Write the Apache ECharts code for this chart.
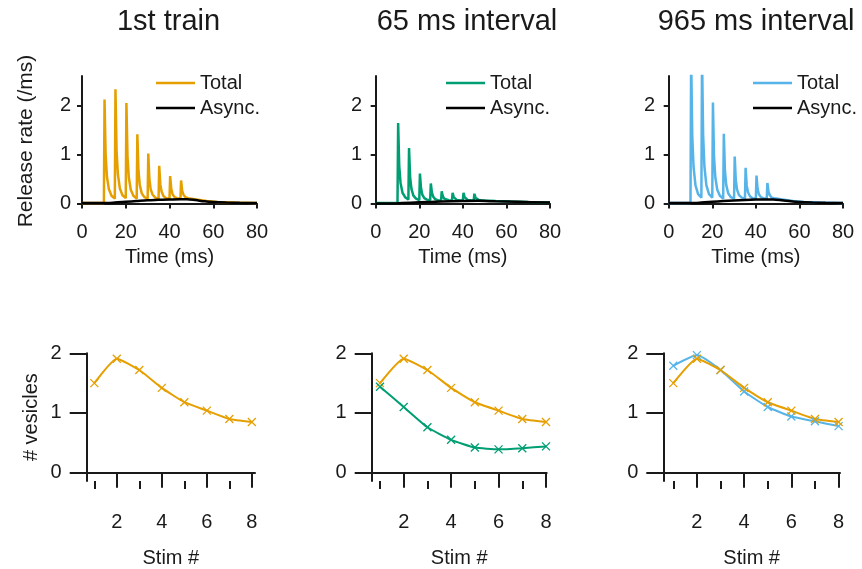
<!DOCTYPE html>
<html>
<head>
<meta charset="utf-8">
<script src="https://cdn.jsdelivr.net/npm/echarts@6/dist/echarts.min.js"></script>
<style>
  html, body { margin: 0; padding: 0; background: #fff; }
  #chart { width: 862px; height: 569px; }
</style>
</head>
<body>
<div id="chart"></div>
<script>
// ---- data ----
var titles = ['1st train', '65 ms interval', '965 ms interval'];
var timeTicks = [0, 20, 40, 60, 80];
var rateTicks = [0, 1, 2];

// release rate traces [time ms, rate /ms]
var totalFirst = [
  [0,0.01],[10,0.01],
  [10.3,2.12],[10.8,1.0],[11.4,0.55],[12.3,0.29],[13.5,0.16],[15,0.1],
  [15.3,2.33],[15.8,1.08],[16.4,0.6],[17.3,0.31],[18.5,0.17],[20,0.11],
  [20.3,2.05],[20.8,0.96],[21.4,0.53],[22.3,0.28],[23.5,0.16],[25,0.1],
  [25.3,1.41],[25.8,0.68],[26.4,0.38],[27.3,0.21],[28.5,0.13],[30,0.1],
  [30.3,1.02],[30.8,0.5],[31.4,0.29],[32.3,0.18],[33.5,0.12],[35,0.1],
  [35.3,0.77],[35.8,0.39],[36.4,0.24],[37.3,0.15],[38.5,0.11],[40,0.1],
  [40.3,0.56],[40.8,0.3],[41.4,0.19],[42.3,0.13],[43.5,0.11],[45,0.1],
  [45.3,0.47],[45.8,0.26],[46.4,0.18],[47.3,0.13],[48.5,0.11],[50,0.1],
  [53,0.08],[57,0.05],[62,0.03],[70,0.02],[80,0.01]
];
var asyncFirst = [
  [0,0.01],[10,0.01],[15,0.02],[20,0.035],[25,0.05],[30,0.065],[35,0.075],
  [40,0.085],[45,0.09],[48,0.09],[52,0.07],[56,0.045],[60,0.03],[66,0.02],
  [72,0.015],[80,0.01]
];
var total65 = [
  [0,0.01],[10,0.01],
  [10.3,1.64],[10.8,0.77],[11.4,0.42],[12.3,0.22],[13.5,0.13],[15,0.08],
  [15.3,1.13],[15.8,0.54],[16.4,0.3],[17.3,0.16],[18.5,0.1],[20,0.07],
  [20.3,0.61],[20.8,0.31],[21.4,0.18],[22.3,0.11],[23.5,0.08],[25,0.07],
  [25.3,0.41],[25.8,0.22],[26.4,0.14],[27.3,0.09],[28.5,0.07],[30,0.06],
  [30.3,0.25],[30.8,0.15],[31.4,0.1],[32.3,0.08],[33.5,0.07],[35,0.06],
  [35.3,0.22],[35.8,0.13],[36.4,0.09],[37.3,0.07],[38.5,0.065],[40,0.06],
  [40.3,0.22],[40.8,0.13],[41.4,0.09],[42.3,0.07],[43.5,0.065],[45,0.06],
  [45.3,0.2],[45.8,0.12],[46.4,0.09],[47.3,0.07],[48.5,0.065],[50,0.06],
  [55,0.05],[62,0.04],[70,0.03],[80,0.02]
];
var async65 = [
  [0,0],[8,0],[12,0.01],[20,0.025],[30,0.04],[40,0.05],[47,0.055],
  [55,0.045],[65,0.035],[80,0.02]
];
var total965 = [
  [0,0.01],[10,0.01],
  [10.3,3.0],[10.8,1.4],[11.4,0.75],[12.3,0.37],[13.5,0.19],[15,0.12],
  [15.3,3.0],[15.8,1.4],[16.4,0.75],[17.3,0.37],[18.5,0.19],[20,0.12],
  [20.3,2.06],[20.8,0.96],[21.4,0.53],[22.3,0.28],[23.5,0.16],[25,0.1],
  [25.3,1.42],[25.8,0.68],[26.4,0.38],[27.3,0.21],[28.5,0.13],[30,0.1],
  [30.3,0.96],[30.8,0.47],[31.4,0.28],[32.3,0.17],[33.5,0.12],[35,0.1],
  [35.3,0.73],[35.8,0.37],[36.4,0.23],[37.3,0.15],[38.5,0.11],[40,0.1],
  [40.3,0.57],[40.8,0.3],[41.4,0.19],[42.3,0.13],[43.5,0.11],[45,0.1],
  [45.3,0.42],[45.8,0.24],[46.4,0.17],[47.3,0.12],[48.5,0.11],[50,0.1],
  [53,0.08],[57,0.05],[62,0.03],[70,0.02],[80,0.01]
];
var async965 = [
  [0,0.01],[10,0.01],[15,0.02],[20,0.035],[25,0.05],[30,0.062],[35,0.072],
  [40,0.08],[45,0.085],[48,0.085],[52,0.068],[56,0.045],[60,0.03],[66,0.02],
  [72,0.015],[80,0.01]
];

// vesicles released per stimulus
var stim = [1, 2, 3, 4, 5, 6, 7, 8];
var vesFirst = [1.5, 1.91, 1.72, 1.42, 1.18, 1.04, 0.9, 0.85];
var ves65 = [1.44, 1.1, 0.76, 0.55, 0.42, 0.39, 0.41, 0.44];
var ves965 = [1.79, 1.97, 1.72, 1.36, 1.1, 0.94, 0.86, 0.78];
var stimMajor = [2, 4, 6, 8];
var stimMinor = [1, 3, 5, 7];
var vesTicks = [0, 1, 2];

// ---- styling ----
var ORANGE = '#E69F00', GREEN = '#009E73', BLUE = '#56B4E9', INK = '#1a1a1a';
var FONT = 'Liberation Sans, Arial, sans-serif';

var chart = echarts.init(document.getElementById('chart'));

function pairs(xs, ys) {
  return xs.map(function (x, i) { return [x, ys[i]]; });
}

var topPanels = [
  { left: 82, width: 175, yOff: 3, legendLeft: 156 },
  { left: 375.7, width: 174.3, yOff: 5.7, legendLeft: 446 },
  { left: 668.7, width: 174.3, yOff: 5.5, legendLeft: 753 }
];
var botPanels = [
  { left: 86.7, width: 168.3, min: 0.662, max: 8.14 },
  { left: 371.7, width: 175, min: 0.65, max: 8.03 },
  { left: 663.3, width: 176.7, min: 0.577, max: 8.06 }
];

var grid = [], xAxis = [], yAxis = [], legend = [], series = [], graphic = [];
var axisLine = { lineStyle: { color: INK, width: 2 } };
var labelStyle = { color: INK, fontSize: 20, fontFamily: FONT };
var nameStyle = { color: INK, fontSize: 20, fontFamily: FONT };

topPanels.forEach(function (p, i) {
  grid.push({ left: p.left, width: p.width, top: 76, height: 130 });
  xAxis.push({
    type: 'value', gridIndex: i, min: 0, max: 80, interval: 20, offset: 4,
    axisLine: axisLine, splitLine: { show: false },
    axisTick: { length: 5, lineStyle: { color: INK, width: 2 } },
    axisLabel: Object.assign({ margin: 12 }, labelStyle),
    name: 'Time (ms)', nameLocation: 'middle', nameGap: 37, nameTextStyle: nameStyle
  });
  yAxis.push({
    type: 'value', gridIndex: i, min: -0.05, max: 2.6, offset: p.yOff,
    axisLine: Object.assign({ show: true }, axisLine), splitLine: { show: false },
    axisTick: { length: 5, customValues: rateTicks, lineStyle: { color: INK, width: 2 } },
    axisLabel: Object.assign({ margin: 8, customValues: rateTicks }, labelStyle),
    name: i === 0 ? 'Release rate (/ms)' : '', nameLocation: 'middle', nameGap: 42,
    nameTextStyle: Object.assign({}, nameStyle, { fontSize: 21 })
  });
  legend.push({
    left: p.legendLeft, top: 73, orient: 'vertical', padding: 0, itemGap: 5,
    itemWidth: 39, itemHeight: 2.5, icon: 'rect',
    data: ['Total-' + i, 'Async.-' + i],
    formatter: function (n) { return n.split('-')[0]; },
    textStyle: { color: INK, fontSize: 20, fontFamily: FONT, lineHeight: 20, padding: [0, 0, 0, 0] }
  });
  graphic.push({
    type: 'text', x: [168.5, 467, 756][i], y: 22,
    style: { text: titles[i], fill: INK, font: '29px ' + FONT, textAlign: 'center', textVerticalAlign: 'middle' }
  });
});

var totals = [totalFirst, total65, total965];
var asyncs = [asyncFirst, async65, async965];
var colors = [ORANGE, GREEN, BLUE];
[0, 1, 2].forEach(function (i) {
  series.push({
    name: 'Total-' + i, type: 'line', xAxisIndex: i, yAxisIndex: i,
    data: totals[i], showSymbol: false, clip: true,
    lineStyle: { color: colors[i], width: 2.5 }, itemStyle: { color: colors[i] }
  });
  series.push({
    name: 'Async.-' + i, type: 'line', xAxisIndex: i, yAxisIndex: i,
    data: asyncs[i], showSymbol: false, smooth: 0.3,
    lineStyle: { color: '#000', width: 2.5 }, itemStyle: { color: '#000' }
  });
});

botPanels.forEach(function (p, i) {
  var g = 3 + i;
  grid.push({ left: p.left, width: p.width, top: 353.3, height: 128.4 });
  xAxis.push({
    type: 'value', gridIndex: g, min: p.min, max: p.max,
    axisLine: axisLine, splitLine: { show: false },
    axisTick: { length: 15, customValues: stimMajor, lineStyle: { color: INK, width: 2 } },
    axisLabel: Object.assign({ margin: 31, customValues: stimMajor }, labelStyle),
    name: 'Stim #', nameLocation: 'middle', nameGap: 67, nameTextStyle: nameStyle
  });
  yAxis.push({
    type: 'value', gridIndex: g, min: -0.14, max: 2,
    axisLine: Object.assign({ show: true }, axisLine), splitLine: { show: false },
    axisTick: { length: 17, customValues: vesTicks, lineStyle: { color: INK, width: 2 } },
    axisLabel: Object.assign({ margin: 25, customValues: vesTicks }, labelStyle),
    name: i === 0 ? '# vesicles' : '', nameLocation: 'middle', nameGap: 45, nameTextStyle: nameStyle
  });
});
// minor stim ticks on odd numbers
botPanels.forEach(function (p, i) {
  xAxis.push({
    type: 'value', gridIndex: 3 + i, min: p.min, max: p.max, position: 'bottom',
    axisLine: { show: false }, splitLine: { show: false },
    axisTick: { length: 8, customValues: stimMinor, lineStyle: { color: INK, width: 2 } },
    axisLabel: { show: false }
  });
});

function vesSeries(name, axis, vals, color) {
  return {
    name: name, type: 'line', xAxisIndex: axis, yAxisIndex: axis,
    data: pairs(stim, vals), smooth: 0.15,
    symbol: 'path://M0,0L10,10M10,0L0,10', symbolSize: 8, showSymbol: true,
    lineStyle: { color: color, width: 2 },
    itemStyle: { color: color, borderColor: color, borderWidth: 1.3 }
  };
}
series.push(vesSeries('first-1', 3, vesFirst, ORANGE));
series.push(vesSeries('first-2', 4, vesFirst, ORANGE));
series.push(vesSeries('65-2', 4, ves65, GREEN));
series.push(vesSeries('965-3', 5, ves965, BLUE));
series.push(vesSeries('first-3', 5, vesFirst, ORANGE));

var option = {
  animation: false,
  textStyle: { fontFamily: FONT },
  grid: grid,
  xAxis: xAxis,
  yAxis: yAxis,
  legend: legend,
  graphic: graphic,
  series: series
};
chart.setOption(option);
</script>
</body>
</html>
